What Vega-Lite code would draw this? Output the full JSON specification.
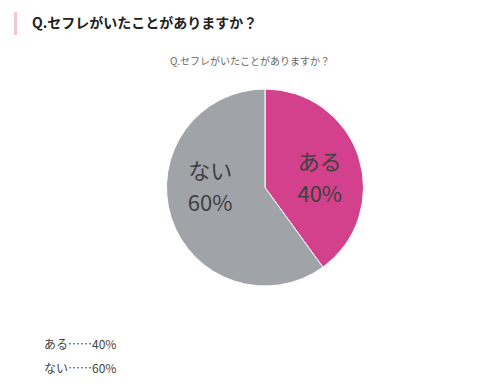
{
  "$schema": "https://vega.github.io/schema/vega-lite/v6.json",
  "padding": {"left": 14, "top": 12, "right": 0, "bottom": 0},
  "background": "white",
  "config": {"view": {"stroke": null}, "font": "Noto Sans CJK JP"},
  "bounds": "flush",
  "spacing": 54,
  "vconcat": [
    {
      "width": 3,
      "height": 23,
      "view": {"fill": "#F3C5D1", "stroke": null},
      "data": {"values": [{"heading": "Q.セフレがいたことがありますか？"}]},
      "mark": {
        "type": "text",
        "align": "left",
        "baseline": "middle",
        "dx": 16.5,
        "fontSize": 14,
        "fontWeight": "bold",
        "color": "#222222"
      },
      "encoding": {"text": {"field": "heading"}}
    },
    {
      "bounds": "flush",
      "spacing": 15,
      "hconcat": [
        {"width": 1, "height": 1, "data": {"values": []}, "mark": "point"},
        {
          "width": 470,
          "height": 197,
          "title": {
            "text": "Q.セフレがいたことがありますか？",
            "anchor": "middle",
            "dx": -15,
            "offset": 20,
            "fontSize": 10,
            "fontWeight": "normal",
            "color": "#666666"
          },
          "data": {
            "values": [
              {"answer": "ある", "percent": 40, "item": "ある……40%", "label": "ある\n40%"},
              {"answer": "ない", "percent": 60, "item": "ない……60%", "label": "ない\n60%"}
            ]
          },
          "encoding": {
            "theta": {"field": "percent", "type": "quantitative", "stack": true},
            "color": {
              "field": "item",
              "type": "nominal",
              "scale": {"domain": ["ある……40%", "ない……60%"], "range": ["#D3408B", "#A0A3A8"]},
              "legend": {
                "orient": "none",
                "legendX": 18,
                "legendY": 327,
                "title": null,
                "symbolSize": 0,
                "symbolStrokeWidth": 0,
                "labelOffset": 0,
                "labelFontSize": 12,
                "labelColor": "#444444",
                "rowPadding": 12
              }
            }
          },
          "layer": [
            {"mark": {"type": "arc", "stroke": "white", "strokeWidth": 1}},
            {
              "mark": {"type": "text", "radius": 55, "thetaOffset": 0.227, "fontSize": 22, "lineBreak": "\n", "lineHeight": 32, "dy": -20},
              "encoding": {
                "text": {"field": "label"},
                "color": {"value": "#404040"},
                "detail": {"field": "item"}
              }
            }
          ]
        }
      ]
    }
  ]
}
